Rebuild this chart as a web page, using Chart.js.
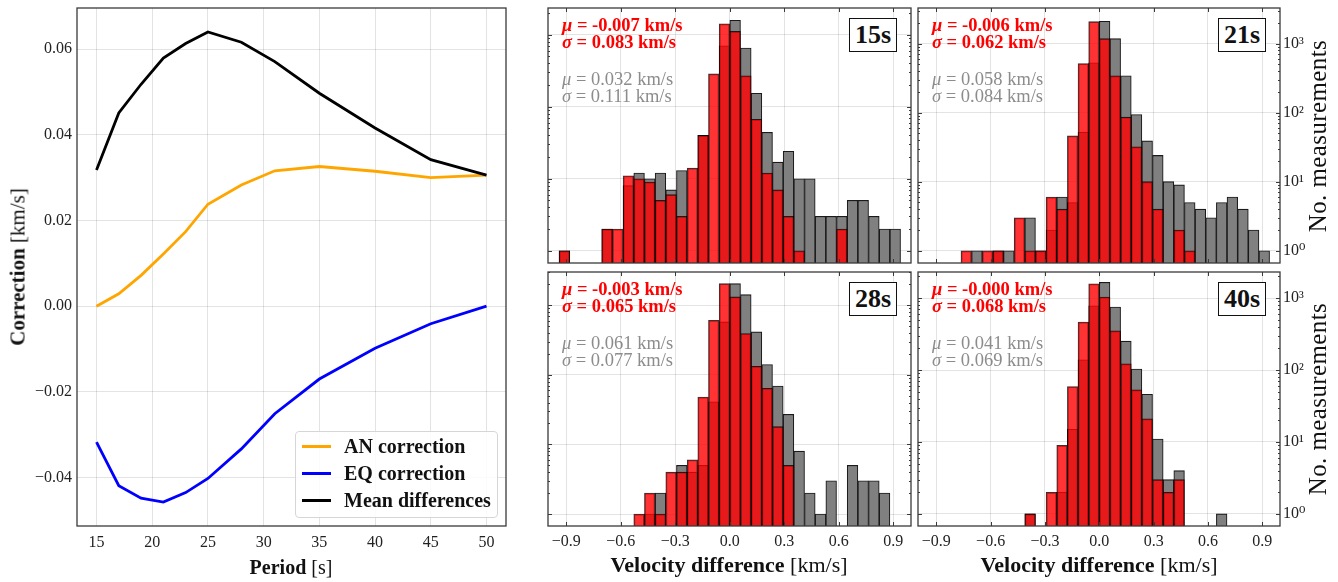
<!DOCTYPE html>
<html>
<head>
<meta charset="utf-8">
<script src="https://cdn.jsdelivr.net/npm/chart.js@4.4.1/dist/chart.umd.min.js"></script>
<style>
  body { margin: 0; background: #fff; }
  #wrap { position: relative; width: 1338px; height: 582px; overflow: hidden;
          font-family: 'Liberation Serif', 'DejaVu Serif', serif; color: #111; }
  canvas { position: absolute; }
  .txt { position: absolute; white-space: nowrap; }
  .axt { font-size: 20px; }
  .stat { font-size: 18.5px; line-height: 17.4px; }
  .red { color: #f00; font-weight: bold; }
  .grey { color: #8c8c8c; }
  .box { position: absolute; width: 46px; height: 32px; border: 1.4px solid #111; background: #fff;
         font-weight: bold; font-size: 26px; line-height: 32px; text-align: center; }
  #legend { position: absolute; left: 295px; top: 431px; width: 201px; height: 85px;
            border: 1px solid #d6d6d6; border-radius: 4px; background: rgba(255,255,255,0.85); }
  .lrow { position: absolute; left: 6px; height: 20px; font-weight: bold; font-size: 20px; line-height: 20px; }
  .lrow span.ln { position: absolute; left: 0; top: 9px; width: 29px; height: 3px; }
  .lrow span.lt { position: absolute; left: 42px; top: 0; white-space: nowrap; }
</style>
</head>
<body>
<div id="wrap">
  <canvas id="cLine" width="520" height="560" style="left:0;top:0"></canvas>
  <canvas id="c15" width="380" height="268" style="left:540px;top:0"></canvas>
  <canvas id="c21" width="428" height="268" style="left:910px;top:0"></canvas>
  <canvas id="c28" width="380" height="292" style="left:540px;top:264px"></canvas>
  <canvas id="c40" width="428" height="292" style="left:910px;top:264px"></canvas>
</div>
<script>
// ---- left panel: corrections vs period ----
const periods = [15, 17, 19, 21, 23, 25, 28, 31, 35, 40, 45, 50];
const anCorrection = [0.0, 0.0029, 0.0072, 0.0122, 0.0174, 0.0238, 0.0283, 0.0316, 0.0326, 0.0315, 0.0300, 0.0306];
const eqCorrection = [-0.0317, -0.0419, -0.0448, -0.0457, -0.0435, -0.0402, -0.0333, -0.0251, -0.0170, -0.0098, -0.0041, 0.0];
const meanDifferences = [0.0318, 0.0451, 0.0518, 0.0579, 0.0613, 0.0640, 0.0616, 0.0571, 0.0497, 0.0416, 0.0342, 0.0306];
const periodTicks = [15, 20, 25, 30, 35, 40, 45, 50];
const correctionTicks = [-0.04, -0.02, 0.0, 0.02, 0.04, 0.06];

// ---- histograms: velocity difference bins (km/s) ----
const binCenters = [-0.9106, -0.8519, -0.7931, -0.7344, -0.6756, -0.6169, -0.5581, -0.4994,
  -0.4406, -0.3819, -0.3231, -0.2644, -0.2056, -0.1469, -0.0881, -0.0294,
  0.0294, 0.0881, 0.1469, 0.2056, 0.2644, 0.3231, 0.3819, 0.4406,
  0.4994, 0.5581, 0.6169, 0.6756, 0.7344, 0.7931, 0.8519, 0.9106];
const velocityTicks = [-0.9, -0.6, -0.3, 0.0, 0.3, 0.6, 0.9];

const grey15 = [1, 0, 0, 0, 2, 0, 8, 12, 10, 12, 7, 13, 0, 40, 0, 703,
  1585, 652, 154, 44, 17, 24, 10, 10, 3, 3, 3, 5, 5, 3, 2, 2];
const red15 = [1, 0, 0, 0, 2, 2, 11, 10, 9, 5, 6, 3, 14, 40, 286, 1422,
  1112, 269, 67, 12, 7, 3, 1, 0, 0, 0, 2, 0, 0, 0, 0, 0];

const grey21 = [0, 0, 0, 0, 1, 0, 1, 1, 0, 3, 1, 2, 6, 5, 52, 527,
  2100, 1180, 342, 94, 39, 24, 10, 9, 5, 4, 3, 5, 6, 4, 2, 1];
const red21 = [0, 0, 0, 1, 0, 1, 1, 0, 3, 1, 1, 6, 4, 46, 514, 2076,
  1180, 342, 86, 32, 10, 4, 0, 2, 1, 0, 0, 0, 0, 0, 0, 0];

const grey28 = [0, 0, 0, 0, 0, 0, 0, 0, 1, 2, 0, 5, 4, 5, 41, 576,
  2046, 1422, 414, 141, 69, 27, 8, 2, 1, 3, 0, 5, 3, 3, 2, 0];
const red28 = [0, 0, 0, 0, 0, 0, 0, 1, 2, 1, 4, 4, 6, 48, 609, 2046,
  1318, 392, 133, 64, 18, 5, 0, 0, 0, 0, 0, 0, 0, 0, 0, 0];

const grey40 = [0, 0, 0, 0, 0, 0, 0, 0, 0, 1, 0, 0, 2, 15, 139, 781,
  1650, 749, 252, 103, 46, 11, 3, 4, 0, 0, 0, 1, 0, 0, 0, 0];
const red40 = [0, 0, 0, 0, 0, 0, 0, 0, 0, 1, 0, 2, 9, 59, 463, 1581,
  1031, 351, 122, 53, 21, 3, 2, 3, 0, 0, 0, 0, 0, 0, 0, 0];

const panelLabels = ['15s', '21s', '28s', '40s'];
const redMu = ['-0.007', '-0.006', '-0.003', '-0.000'];
const redSigma = ['0.083', '0.062', '0.065', '0.068'];
const greyMu = ['0.032', '0.058', '0.061', '0.041'];
const greySigma = ['0.111', '0.084', '0.077', '0.069'];

Chart.defaults.font.family = "'Liberation Serif', 'DejaVu Serif', serif";
Chart.defaults.color = '#222';

const FRAME = '#3a3a3a';
const GRID = 'rgba(0,0,0,0.11)';

function minus(s) { return String(s).replace('-', '\u2212'); }
function isDecade(v) { const l = Math.log10(v); return Math.abs(l - Math.round(l)) < 1e-6; }
const SUP = ['\u2070', '\u00b9', '\u00b2', '\u00b3', '\u2074'];

// fix an axis to a given thickness and drop the label overhang padding
function fixAxis(s, size) {
  if (s.isHorizontal()) s.height = size; else s.width = size;
  s.paddingTop = 0; s.paddingBottom = 0; s.paddingLeft = 0; s.paddingRight = 0;
}

// frame + inward tick marks
const framePlugin = {
  id: 'frame',
  afterDraw(chart, args, opts) {
    const ctx = chart.ctx, a = chart.chartArea;
    ctx.save();
    ctx.strokeStyle = FRAME;
    if (opts.ticks) {
      ctx.lineWidth = 1;
      const xs = chart.scales.x, ys = chart.scales.y;
      ctx.beginPath();
      xs.ticks.forEach(t => {
        const px = Math.round(xs.getPixelForValue(t.value)) + 0.5;
        ctx.moveTo(px, a.bottom); ctx.lineTo(px, a.bottom - 4);
        ctx.moveTo(px, a.top); ctx.lineTo(px, a.top + 4);
      });
      ys.ticks.forEach(t => {
        const py = Math.round(ys.getPixelForValue(t.value)) + 0.5;
        const len = isDecade(t.value) ? 4 : 2;
        ctx.moveTo(a.left, py); ctx.lineTo(a.left + len, py);
        ctx.moveTo(a.right, py); ctx.lineTo(a.right - len, py);
      });
      ctx.stroke();
    }
    ctx.lineWidth = 1.3;
    ctx.strokeRect(a.left, a.top, a.right - a.left, a.bottom - a.top);
    ctx.restore();
  }
};

// ---- line chart ----
function pts(ys) { return periods.map((p, i) => ({x: p, y: ys[i]})); }

new Chart(document.getElementById('cLine'), {
  type: 'line',
  data: {
    datasets: [
      {label: 'Mean differences', data: pts(meanDifferences), borderColor: '#000'},
      {label: 'EQ correction', data: pts(eqCorrection), borderColor: '#0000ff'},
      {label: 'AN correction', data: pts(anCorrection), borderColor: '#ffa500'}
    ]
  },
  options: {
    responsive: false,
    animation: false,
    layout: {padding: {top: 8, right: 14, left: 0, bottom: 0}},
    elements: {line: {borderWidth: 2.8, tension: 0}, point: {radius: 0}},
    plugins: {legend: {display: false}, tooltip: {enabled: false}, frame: {ticks: false}},
    scales: {
      x: {
        type: 'linear', min: 13.25, max: 51.75,
        afterBuildTicks: s => { s.ticks = periodTicks.map(v => ({value: v})); },
        afterFit: s => fixAxis(s, 34),
        grid: {color: GRID, drawTicks: false},
        border: {display: false},
        ticks: {font: {size: 16}, padding: 7, autoSkip: false, maxRotation: 0, callback: v => String(v)}
      },
      y: {
        type: 'linear', min: -0.0513, max: 0.0696,
        afterBuildTicks: s => { s.ticks = correctionTicks.map(v => ({value: v})); },
        afterFit: s => fixAxis(s, 77),
        grid: {color: GRID, drawTicks: false},
        border: {display: false},
        ticks: {font: {size: 16}, padding: 5, autoSkip: false, callback: v => minus(v.toFixed(2))}
      }
    }
  },
  plugins: [framePlugin]
});

// ---- histograms ----
function bars(counts) {
  return binCenters.map((c, i) => ({x: c, y: counts[i]})).filter(p => p.y > 0);
}

function logTicks(min, max) {
  const out = [];
  for (let e = 0; e <= 3; e++) {
    for (let m = 1; m <= 9; m++) {
      const v = m * Math.pow(10, e);
      if (v >= min && v <= max) out.push({value: v, major: m === 1});
    }
  }
  return out;
}

function makeHist(id, grey, red, cfg) {
  new Chart(document.getElementById(id), {
    type: 'bar',
    data: {
      datasets: [
        {data: bars(red), backgroundColor: 'rgba(255,0,0,0.8)', borderColor: 'rgba(0,0,0,0.8)'},
        {data: bars(grey), backgroundColor: '#808080', borderColor: '#1a1a1a'}
      ]
    },
    options: {
      responsive: false,
      animation: false,
      layout: {padding: cfg.padding},
      datasets: {bar: {grouped: false, barPercentage: 1, categoryPercentage: 1, borderWidth: 1.1}},
      plugins: {legend: {display: false}, tooltip: {enabled: false}, frame: {ticks: true}},
      scales: {
        x: {
          type: 'linear', min: -1.001, max: 0.9975, offset: false,
          afterBuildTicks: s => { s.ticks = velocityTicks.map(v => ({value: v})); },
          afterFit: s => fixAxis(s, cfg.xHeight),
          grid: {color: GRID, drawTicks: false, offset: false},
          border: {display: false},
          ticks: {display: cfg.xLabels, font: {size: 16}, padding: 6, autoSkip: false, maxRotation: 0,
                  callback: v => minus(v.toFixed(1))}
        },
        y: {
          type: 'logarithmic', position: cfg.yPos, min: cfg.yMin, max: cfg.yMax,
          afterBuildTicks: s => { s.ticks = logTicks(cfg.yMin, cfg.yMax); },
          afterFit: s => fixAxis(s, cfg.yWidth),
          grid: {color: c => (c.tick && isDecade(c.tick.value)) ? GRID : 'rgba(0,0,0,0)', drawTicks: false},
          border: {display: false},
          ticks: {display: cfg.yLabels, font: {size: 16}, padding: 3, autoSkip: false,
                  callback: v => isDecade(v) ? '10' + SUP[Math.round(Math.log10(v))] : ''}
        }
      }
    },
    plugins: [framePlugin]
  });
}

makeHist('c15', grey15, red15, {padding: {top: 8, right: 9, left: 0, bottom: 0}, xHeight: 5, xLabels: false,
  yPos: 'left', yWidth: 8, yLabels: false, yMin: 0.675, yMax: 2350});
makeHist('c21', grey21, red21, {padding: {top: 8, right: 0, left: 8, bottom: 0}, xHeight: 5, xLabels: false,
  yPos: 'right', yWidth: 58, yLabels: true, yMin: 0.665, yMax: 3275});
makeHist('c28', grey28, red28, {padding: {top: 8, right: 9, left: 0, bottom: 0}, xHeight: 30, xLabels: true,
  yPos: 'left', yWidth: 8, yLabels: false, yMin: 0.673, yMax: 3006});
makeHist('c40', grey40, red40, {padding: {top: 8, right: 0, left: 8, bottom: 0}, xHeight: 30, xLabels: true,
  yPos: 'right', yWidth: 58, yLabels: true, yMin: 0.68, yMax: 2300});

// ---- text overlays ----
const wrap = document.getElementById('wrap');
function addText(html, cls, style) {
  const d = document.createElement('div');
  d.className = 'txt ' + cls;
  d.innerHTML = html;
  Object.assign(d.style, style);
  wrap.appendChild(d);
  return d;
}

// panel frames (left, top, right) for the four histograms
const panelLeft = [548, 918, 548, 918];
const panelTop = [8, 8, 272, 272];
const panelRight = [911, 1280, 911, 1280];

panelLabels.forEach((lab, i) => {
  addText('<i>\u03bc</i> = ' + redMu[i] + ' km/s<br><i>\u03c3</i> = ' + redSigma[i] + ' km/s', 'stat red',
    {left: (panelLeft[i] + 14) + 'px', top: (panelTop[i] + 9) + 'px'});
  addText('<i>\u03bc</i> = ' + greyMu[i] + ' km/s<br><i>\u03c3</i> = ' + greySigma[i] + ' km/s', 'stat grey',
    {left: (panelLeft[i] + 14) + 'px', top: (panelTop[i] + 63) + 'px'});
  const b = document.createElement('div');
  b.className = 'box';
  b.textContent = lab;
  b.style.left = (panelRight[i] - 62) + 'px';
  b.style.top = (panelTop[i] + 10) + 'px';
  wrap.appendChild(b);
});

// axis titles
addText('<b>Period</b> [s]', 'axt', {left: '291px', top: '556px', transform: 'translateX(-50%)'});
addText('<b>Velocity difference</b> [km/s]', 'axt', {left: '729px', top: '552px', fontSize: '22px', transform: 'translateX(-50%)'});
addText('<b>Velocity difference</b> [km/s]', 'axt', {left: '1099px', top: '552px', fontSize: '22px', transform: 'translateX(-50%)'});
addText('<b>Correction</b> [km/s]', 'axt', {left: '18px', top: '267px', fontSize: '21px', transform: 'translate(-50%,-50%) rotate(-90deg)'});
addText('No. measurements', 'axt', {left: '1318px', top: '136px', fontSize: '25px', letterSpacing: '0.4px', transform: 'translate(-50%,-50%) rotate(-90deg)'});
addText('No. measurements', 'axt', {left: '1318px', top: '399px', fontSize: '25px', letterSpacing: '0.4px', transform: 'translate(-50%,-50%) rotate(-90deg)'});

// legend (inside the left panel, lower right)
const legendItems = [['AN correction', '#ffa500'], ['EQ correction', '#0000ff'], ['Mean differences', '#000']];
const lg = document.createElement('div');
lg.id = 'legend';
legendItems.forEach((it, i) => {
  const r = document.createElement('div');
  r.className = 'lrow';
  r.style.top = (4 + i * 27) + 'px';
  r.innerHTML = '<span class="ln" style="background:' + it[1] + '"></span><span class="lt">' + it[0] + '</span>';
  lg.appendChild(r);
});
wrap.appendChild(lg);
</script>
</body>
</html>
